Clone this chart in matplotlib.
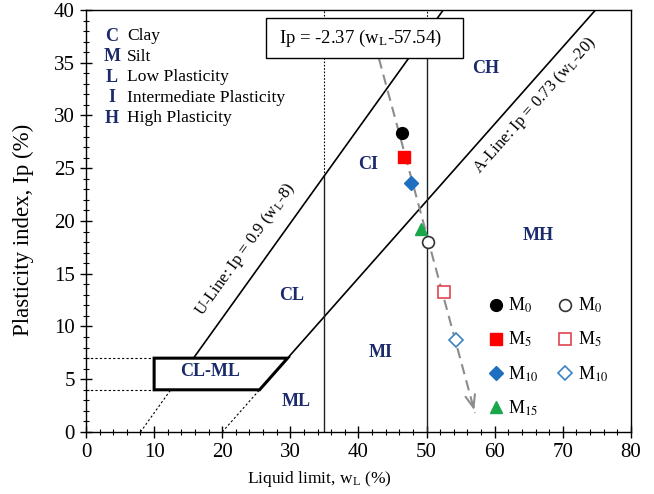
import numpy as np
import matplotlib
matplotlib.use("Agg")
import matplotlib.pyplot as plt
from matplotlib.patches import Polygon, Rectangle

plt.rcParams['font.family'] = ['Liberation Serif', 'DejaVu Serif']
plt.rcParams['mathtext.fontset'] = 'stix'

# measured points (liquid limit, plasticity index)
labels = ["M$_0$", "M$_5$", "M$_{10}$", "M$_{15}$"]
wl_a = [46.4, 46.7, 47.7, 49.2]
ip_a = [28.3, 26.1, 23.6, 19.2]
wl_b = [50.2, 52.6, 54.3]
ip_b = [18.0, 13.3, 8.7]
colors = ["black", "#ff0000", "#1f6fc0", "#1aa64a"]
open_colors = ["#333333", "#e0454f", "#3b82c4"]
markers = ["o", "s", "D", "^"]

# trend line drawn on the chart: Ip = -2.37 (wL - 57.54)
trend_wl = [43.0, 57.1]
trend_ip = [35.4, 1.8]

navy = "#1b2a6b"

fig = plt.figure(figsize=(6.54, 4.94), dpi=100)
ax = fig.add_axes([0.1315, 0.1255, 0.8333, 0.8543])
ax.set_xlim(0, 80)
ax.set_ylim(0, 40)

# U-line and A-line
u = lambda w: 0.9 * (w - 8)
ax.plot([8, 12.44], [0, 4], color="k", lw=0.8, ls=(0, (2, 2)))
ax.plot([15.78, 40 / 0.9 + 8], [7, 40], color="k", lw=1.2)
ax.plot([20, 4 / 0.73 + 20], [0, 4], color="k", lw=0.8, ls=(0, (2, 2)))
ax.plot([7 / 0.73 + 20, 40 / 0.73 + 20], [7, 40], color="k", lw=1.2)

# vertical boundaries
ax.plot([35, 35], [0, u(35)], color="#222222", lw=1.0)
ax.plot([35, 35], [u(35), 40], color="k", lw=0.8, ls=(0, (1.5, 1.5)))
ax.plot([50, 50], [0, u(50)], color="#222222", lw=1.0)
ax.plot([50, 50], [u(50), 40], color="k", lw=0.8, ls=(0, (1.5, 1.5)))

# CL-ML zone
ax.add_patch(Polygon([[10, 4], [4 / 0.73 + 20, 4], [7 / 0.73 + 20, 7], [10, 7]],
                     closed=True, fill=False, lw=2.2, ec="k", zorder=3))
ax.plot([0, 10], [7, 7], color="k", lw=0.8, ls=(0, (2, 2)))
ax.plot([0, 10], [4, 4], color="k", lw=0.8, ls=(0, (2, 2)))

# trend arrow
ax.plot(trend_wl, trend_ip, color="#8c8c8c", lw=1.5, ls=(0, (5, 3)), zorder=2)
dx = trend_wl[1] - trend_wl[0]
dy = trend_ip[1] - trend_ip[0]
ax.annotate("", xy=(trend_wl[1], trend_ip[1]),
            xytext=(trend_wl[1] - 0.03 * dx, trend_ip[1] - 0.03 * dy),
            arrowprops=dict(arrowstyle="->,head_length=0.9,head_width=0.35",
                            color="#8c8c8c", lw=1.5), zorder=2)

handles = []
for i in range(4):
    h, = ax.plot(wl_a[i], ip_a[i], marker=markers[i], color=colors[i], ls="none",
                 ms=8.5 if markers[i] != "D" else 7, zorder=5)
    handles.append(h)
for i in range(3):
    h, = ax.plot(wl_b[i], ip_b[i], marker=markers[i], mfc="white", mec=open_colors[i],
                 mew=1.2, ls="none", ms=8.5 if markers[i] != "D" else 7, zorder=5)
    handles.append(h)
ax.legend(handles, labels + labels[:3], ncol=2, frameon=False, fontsize=13,
          loc="lower right", bbox_to_anchor=(0.988, -0.005), handletextpad=0.15,
          columnspacing=0.9, labelspacing=0.82, handlelength=1.1)

# line labels
ang_u = np.degrees(np.arctan(0.9 * (422 / 40) / (545 / 80)))
ang_a = np.degrees(np.arctan(0.73 * (422 / 40) / (545 / 80)))
ax.text(23.4, 17.3, "U-Line: Ip = 0.9 (w$_\\mathregular{L}$-8)", rotation=ang_u,
        ha="center", va="center", fontsize=12)
ax.text(65.9, 31.0, "A-Line: Ip = 0.73 (w$_\\mathregular{L}$-20)", rotation=ang_a,
        ha="center", va="center", fontsize=12)

ax.add_patch(Rectangle((26.4, 35.45), 29.0, 3.8, fill=True, fc="white", ec="k",
                       lw=1.0, zorder=4))
ax.text(40.3, 37.3, "Ip = -2.37 (w$_\\mathregular{L}$-57.54)", ha="center", va="center",
        fontsize=13.5, zorder=5)

# zone labels
zones = {"CH": (58.6, 34.5), "CI": (41.4, 25.4), "MH": (66.4, 18.6), "CL": (30.2, 12.9),
         "MI": (43.2, 7.5), "ML": (30.8, 2.9), "CL-ML": (18.2, 5.7)}
for k, (x, y) in zones.items():
    ax.text(x, y, k, ha="center", va="center", fontsize=13, fontweight="bold", color=navy)

# abbreviations
abbr = [("C", "Clay"), ("M", "Silt"), ("L", "Low Plasticity"),
        ("I", "Intermediate Plasticity"), ("H", "High Plasticity")]
for i, (k, v) in enumerate(abbr):
    y = 37.5 - i * 1.94
    ax.text(3.8, y, k, ha="center", va="center", fontsize=13, fontweight="bold", color=navy)
    ax.text(6.0, y, v, ha="left", va="center", fontsize=12.6)

ax.set_xticks(np.arange(0, 81, 10))
ax.set_xticks(np.arange(0, 81, 2), minor=True)
ax.set_yticks(np.arange(0, 41, 5))
ax.set_yticks(np.arange(0, 41, 1), minor=True)
ax.tick_params(which="major", direction="inout", length=9, width=1, labelsize=15)
ax.tick_params(which="minor", direction="inout", length=5, width=0.8)
for s in ax.spines.values():
    s.set_linewidth(1.0)
ax.set_xlabel("Liquid limit, w$_\\mathregular{L}$ (%)", fontsize=12.5)
ax.xaxis.set_label_coords(0.4275, -0.088)
ax.set_ylabel("Plasticity index, Ip (%)", fontsize=16.5)
ax.yaxis.set_label_coords(-0.095, 0.479)

fig.savefig("out.png", dpi=100)
